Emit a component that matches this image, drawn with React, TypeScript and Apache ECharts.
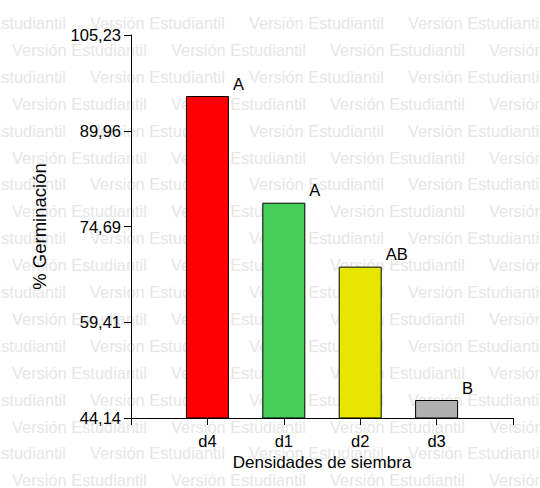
import React, { useEffect, useRef } from "react";
import * as echarts from "echarts";

// Germination means by sowing density, with letters from the mean comparison test
const categories = ["d4", "d1", "d2", "d3"];
const germination = [95.5, 78.48, 68.28, 47.01];
const groupLetters = ["A", "A", "AB", "B"];
const barColors = ["#FF0000", "#46CD5A", "#E6E600", "#B0B0B0"];

const yMin = 44.14;
const yMax = 105.23;
const yTickLabels = ["44,14", "59,41", "74,69", "89,96", "105,23"];

const watermarkText = "Versión Estudiantil";

const FONT = "'Liberation Sans', Arial, sans-serif";

// Tiled background text, alternate rows shifted by half a tile
function buildWatermark() {
  const items: any[] = [];
  const rowStep = 26.9;
  const colStep = 159;
  for (let r = 0; r < 18; r++) {
    const y = 23 + r * rowStep;
    const startX = r % 2 === 0 ? -69 : 12;
    for (let x = startX; x < 560; x += colStep) {
      items.push({
        type: "text",
        x,
        y,
        z: -100,
        silent: true,
        style: {
          text: watermarkText,
          fill: "#E6E6E6",
          font: `16.4px ${FONT}`,
          verticalAlign: "middle",
        },
      });
    }
  }
  return items;
}

export default function App() {
  const ref = useRef<HTMLDivElement>(null);

  useEffect(() => {
    if (!ref.current) return;
    const chart = echarts.init(ref.current, null, { renderer: "svg" });

    const axisCats = ["", ...categories, ""];
    const data = axisCats.map((c, i) => {
      if (i === 0 || i > categories.length) return "-";
      const k = i - 1;
      return {
        value: germination[k],
        itemStyle: { color: barColors[k] },
        label: { formatter: groupLetters[k] },
      };
    });

    chart.setOption({
      animation: false,
      backgroundColor: "#FFFFFF",
      graphic: buildWatermark(),
      grid: { left: 131, right: 27, top: 35, bottom: 70, containLabel: false },
      xAxis: {
        type: "category",
        data: axisCats,
        boundaryGap: false,
        name: "Densidades de siembra",
        nameLocation: "middle",
        nameGap: 36,
        nameTextStyle: { color: "#000", fontFamily: FONT, fontSize: 17, verticalAlign: "top" },
        axisLine: { show: true, lineStyle: { color: "#000", width: 1 } },
        axisTick: { show: true, length: 7, interval: 0, lineStyle: { color: "#000" } },
        axisLabel: { color: "#000", fontFamily: FONT, fontSize: 16.5, margin: 14, interval: 0 },
        splitLine: { show: false },
      },
      yAxis: {
        type: "value",
        min: yMin,
        max: yMax,
        interval: (yMax - yMin) / 4,
        name: "% Germinación",
        nameLocation: "middle",
        nameGap: 82,
        nameTextStyle: { color: "#000", fontFamily: FONT, fontSize: 18.5 },
        axisLine: { show: true, lineStyle: { color: "#000", width: 1 } },
        axisTick: { show: true, length: 7, lineStyle: { color: "#000" } },
        axisLabel: {
          color: "#000",
          fontFamily: FONT,
          fontSize: 16.5,
          margin: 10,
          formatter: (_v: number, i: number) => yTickLabels[i] ?? "",
        },
        splitLine: { show: false },
      },
      series: [
        {
          type: "bar",
          data,
          barWidth: 43,
          z: 2,
          itemStyle: { borderColor: "#000", borderWidth: 1 },
          label: {
            show: true,
            position: [47, -21],
            align: "left",
            verticalAlign: "top",
            color: "#000",
            fontFamily: FONT,
            fontSize: 16.5,
          },
        },
      ],
    });

    return () => chart.dispose();
  }, []);

  return (
    <div
      ref={ref}
      style={{ position: "fixed", left: 0, top: 0, width: 540, height: 488 }}
    />
  );
}
